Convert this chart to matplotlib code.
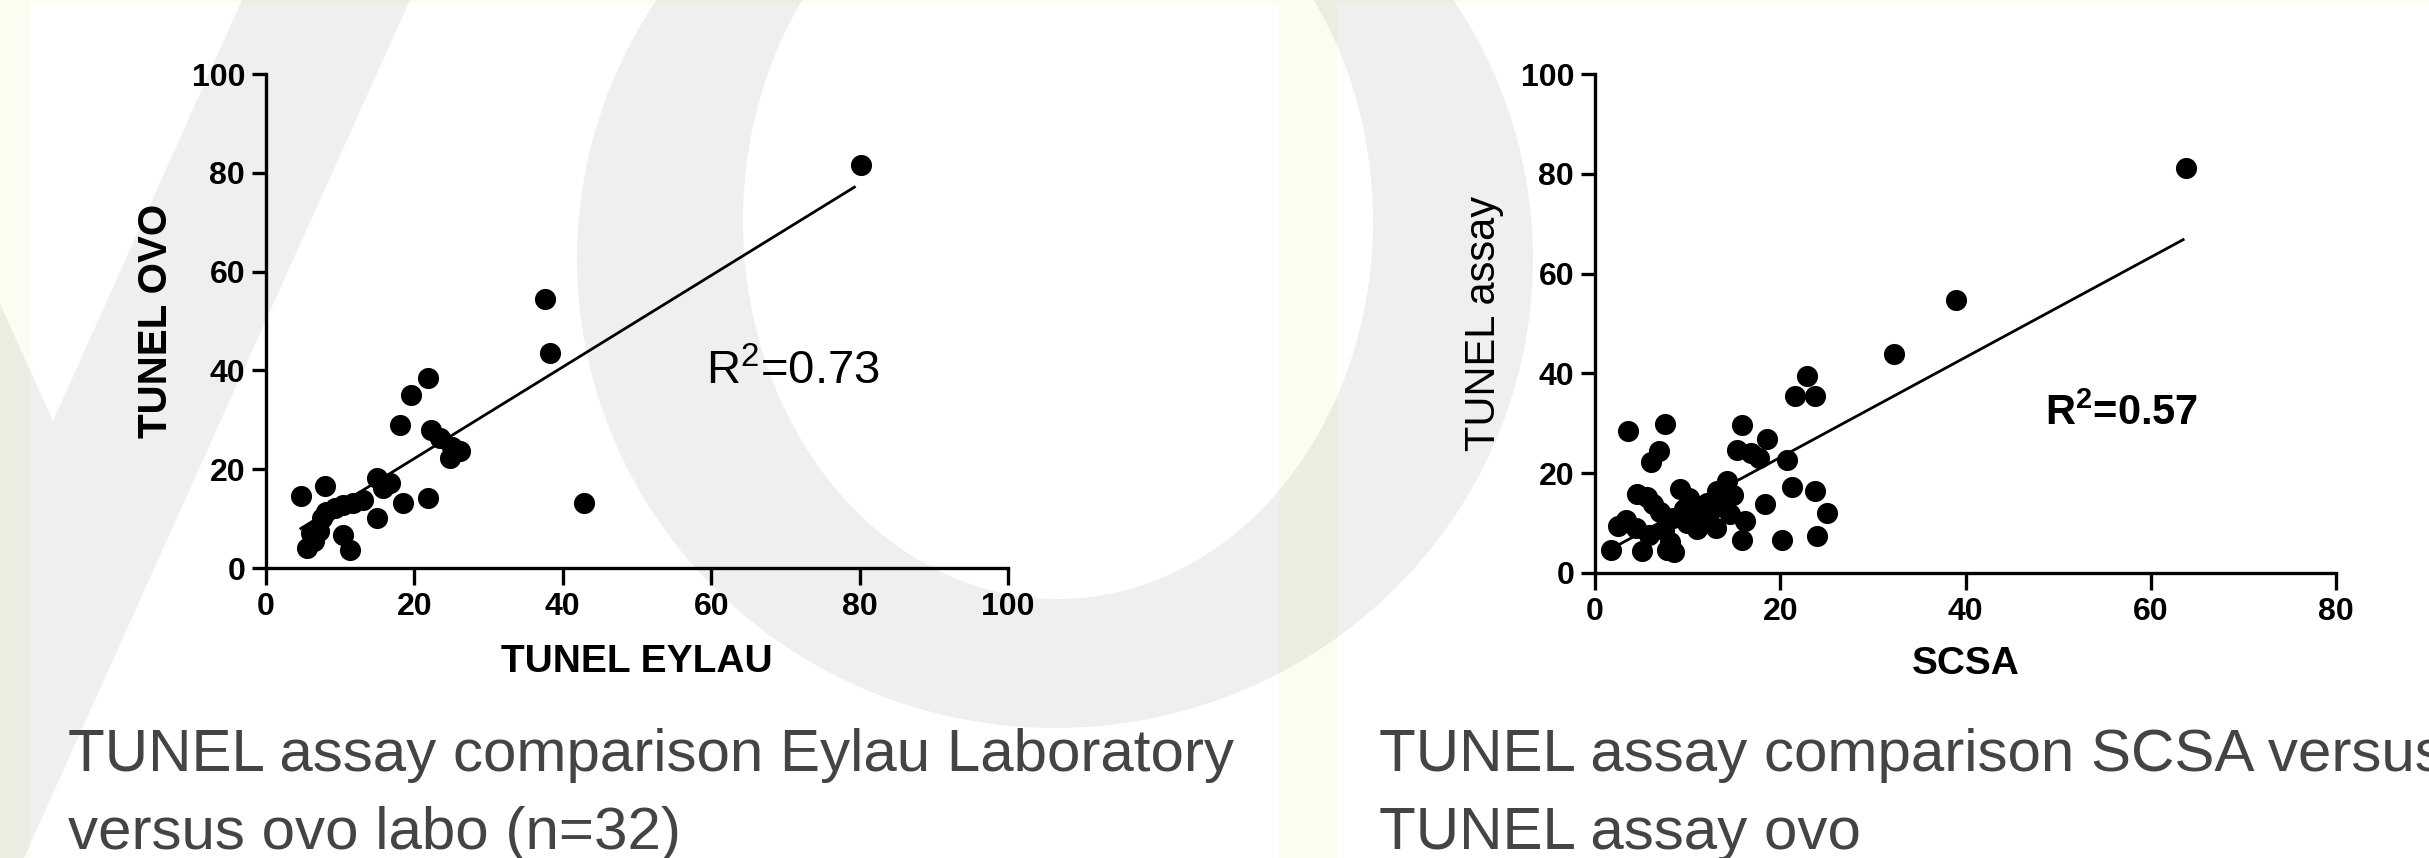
import numpy as np
import matplotlib
matplotlib.use("Agg")
import matplotlib.pyplot as plt
from matplotlib.patches import Rectangle, Polygon, PathPatch
from matplotlib.path import Path

# ---------------- data ----------------
eylau_x = [4.7, 7.9, 5.5, 6.1, 7.2, 6.5, 7.5, 8.1, 9.3, 10.4, 11.7, 13.1, 10.4, 11.3,
           14.9, 14.9, 15.8, 16.7, 18.5, 18.0, 19.6, 21.9, 21.9, 22.3, 23.5, 24.8,
           26.2, 25.0, 38.3, 37.6, 42.8, 80.2]
ovo_y = [14.5, 16.7, 4.0, 7.1, 7.4, 5.4, 10.1, 11.4, 12.1, 12.8, 13.1, 13.8, 6.7, 3.7,
         10.1, 18.2, 16.2, 17.2, 13.1, 29.0, 35.0, 38.5, 14.1, 27.9, 26.3, 22.2,
         23.6, 24.5, 43.6, 54.5, 13.1, 81.5]
eylau_fit_x = [4.7, 79.3]
eylau_fit_y = [8.0, 77.1]
eylau_r2 = r"R$^{2}$=0.73"

scsa_x = [1.7, 3.6, 7.6, 6.0, 6.9, 2.5, 3.4, 4.4, 4.5, 5.6, 6.3, 5.1, 5.8, 7.0, 7.4,
          8.1, 8.5, 7.8, 8.4, 9.2, 9.6, 9.9, 10.6, 11.0, 11.7, 12.1, 13.1, 13.2, 14.2,
          14.9, 14.6, 15.9, 16.2, 15.3, 15.9, 16.8, 17.7, 18.6, 18.4, 20.2, 20.7, 21.3,
          23.8, 25.0, 24.0, 21.6, 22.9, 23.8, 32.3, 39.0, 63.8, 12.5, 13.8, 10.2]
tunel_y = [4.7, 28.4, 29.8, 22.3, 24.5, 9.4, 10.6, 9.0, 15.8, 15.2, 13.9, 4.4, 7.6, 12.3,
           8.6, 6.2, 4.3, 4.6, 11.1, 16.8, 12.9, 10.0, 13.8, 8.9, 11.3, 14.0, 9.1, 16.5,
           18.5, 15.6, 11.8, 6.7, 10.4, 24.6, 29.6, 24.0, 23.0, 26.9, 13.8, 6.7, 22.6,
           17.2, 16.5, 12.1, 7.4, 35.4, 39.5, 35.4, 43.8, 54.7, 81.1, 12.6, 13.2, 15.0]
scsa_fit_x = [1.7, 63.5]
scsa_fit_y = [4.8, 66.8]
scsa_r2 = r"R$^{\mathbf{2}}$=0.57"

left_xticks = [0, 20, 40, 60, 80, 100]
right_xticks = [0, 20, 40, 60, 80]
y_ticks = [0, 20, 40, 60, 80, 100]

left_caption = ["TUNEL assay comparison Eylau Laboratory", "versus ovo labo (n=32)"]
right_caption = ["TUNEL assay comparison SCSA versus", "TUNEL assay ovo"]

# ---------------- figure ----------------
W, H = 2429, 858
plt.rcParams['font.family'] = ['Liberation Sans', 'DejaVu Sans']
plt.rcParams['mathtext.fontset'] = 'custom'
plt.rcParams['mathtext.rm'] = 'Liberation Sans'
plt.rcParams['mathtext.bf'] = 'Liberation Sans:bold'
plt.rcParams['mathtext.default'] = 'regular'
fig = plt.figure(figsize=(W / 100, H / 100), dpi=100, facecolor='#fcfcf0')

# background decoration (page panels + faint watermark)
bg = fig.add_axes([0, 0, 1, 1], zorder=0)
bg.set_xlim(0, W)
bg.set_ylim(H, 0)
bg.axis('off')
bg.add_patch(Rectangle((30, 3), 1249, H, facecolor='white', edgecolor='none'))
bg.add_patch(Rectangle((1337, 3), W - 1337, H, facecolor='white', edgecolor='none'))
wm = dict(facecolor='black', alpha=0.062, edgecolor='none')
bg.add_patch(Polygon([(-400, 0), (-137, 0), (53, 421), (242, 0), (410, 0),
                      (410 - 0.45 * H, H), (-400, H)], closed=True, **wm))


def ellipse(cx, cy, a, b, reverse=False):
    t = np.linspace(0, 2 * np.pi, 240)
    if reverse:
        t = t[::-1]
    return np.column_stack([cx + a * np.cos(t), cy + b * np.sin(t)])


outer = ellipse(1055, 259, 478, 469)
inner = ellipse(1058, 221, 315, 378, reverse=True)
verts = np.vstack([outer, inner])
codes = ([Path.MOVETO] + [Path.LINETO] * (len(outer) - 2) + [Path.CLOSEPOLY] +
         [Path.MOVETO] + [Path.LINETO] * (len(inner) - 2) + [Path.CLOSEPOLY])
bg.add_patch(PathPatch(Path(verts, codes), **wm))


def style(ax, xmax, xticks):
    ax.set_facecolor('none')
    ax.set_xlim(0, xmax)
    ax.set_ylim(0, 100)
    ax.set_xticks(xticks)
    ax.set_yticks(y_ticks)
    for s in ['top', 'right']:
        ax.spines[s].set_visible(False)
    for s in ['left', 'bottom']:
        ax.spines[s].set_linewidth(2.4)
    ax.tick_params(axis='x', length=12, width=2.4, pad=5, labelsize=23)
    ax.tick_params(axis='y', length=10, width=2.4, pad=5, labelsize=23)
    for lab in ax.get_xticklabels() + ax.get_yticklabels():
        lab.set_fontweight('bold')


axL = fig.add_axes([266 / W, 1 - 568 / H, 742 / W, 494 / H], zorder=2)
axR = fig.add_axes([1595 / W, 1 - 573 / H, 741 / W, 499 / H], zorder=2)
style(axL, 100, left_xticks)
style(axR, 80, right_xticks)

axL.plot(eylau_x, ovo_y, 'o', color='black', ms=15.2, mew=0, clip_on=False)
axL.plot(eylau_fit_x, eylau_fit_y, color='black', lw=2.0)
axL.text(59.3, 37.2, eylau_r2, fontsize=34, va='baseline')
axL.set_xlabel('TUNEL EYLAU', fontsize=28, fontweight='bold', labelpad=16)
axL.set_ylabel('TUNEL OVO', fontsize=29, fontweight='bold', labelpad=12)

axR.plot(scsa_x, tunel_y, 'o', color='black', ms=15.2, mew=0, clip_on=False)
axR.plot(scsa_fit_x, scsa_fit_y, color='black', lw=2.0)
axR.text(48.6, 29.7, scsa_r2, fontsize=30, fontweight='bold', va='baseline')
axR.set_xlabel('SCSA', fontsize=28, fontweight='bold', labelpad=14)
axR.set_ylabel('TUNEL assay', fontsize=30, labelpad=12)

cap_kw = dict(fontsize=43.3, color='#444444', va='baseline', ha='left')
fig.text(68 / W, 1 - 771 / H, left_caption[0], **cap_kw)
fig.text(68 / W, 1 - 849 / H, left_caption[1], **cap_kw)
fig.text(1379 / W, 1 - 771 / H, right_caption[0], **cap_kw)
fig.text(1379 / W, 1 - 849 / H, right_caption[1], **cap_kw)

fig.savefig('out.png', dpi=100, facecolor=fig.get_facecolor())
